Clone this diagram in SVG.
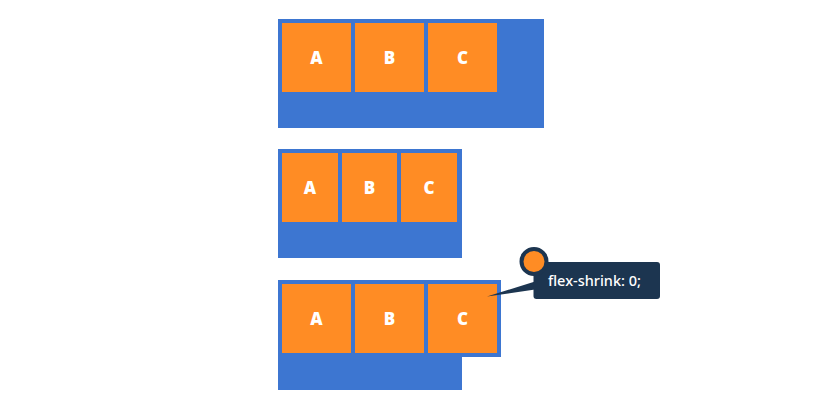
<svg xmlns="http://www.w3.org/2000/svg" width="826" height="403" viewBox="0 0 826 403">
<style>
.cont{fill:#3D76D1}
.item{fill:#FF8C24}
.lbl{font-family:"Open Sans","Noto Sans",sans-serif;font-weight:800;font-size:17px;fill:#fff;text-anchor:middle}
.tip{font-family:"Noto Sans","Open Sans",sans-serif;font-size:14.5px;font-weight:500;fill:#fff}
</style>
<rect width="826" height="403" fill="#fff"/>
<g id="panel1">
<rect class="cont" x="278" y="19" width="266" height="109"/>
<g id="p1-a"><rect class="item" x="282" y="23" width="69" height="69"/><text class="lbl" x="316.5" y="63.5">A</text></g>
<g id="p1-b"><rect class="item" x="355" y="23" width="69" height="69"/><text class="lbl" x="389.5" y="63.5">B</text></g>
<g id="p1-c"><rect class="item" x="428" y="23" width="69" height="69"/><text class="lbl" x="462.5" y="63.5">C</text></g>
</g>
<g id="panel2">
<rect class="cont" x="278" y="149" width="184" height="109"/>
<g id="p2-a"><rect class="item" x="282" y="153" width="56" height="69"/><text class="lbl" x="310" y="193.5">A</text></g>
<g id="p2-b"><rect class="item" x="342" y="153" width="55" height="69"/><text class="lbl" x="369.5" y="193.5">B</text></g>
<g id="p2-c"><rect class="item" x="401" y="153" width="56" height="69"/><text class="lbl" x="429" y="193.5">C</text></g>
</g>
<g id="panel3">
<rect class="cont" x="278" y="280" width="184" height="110"/>
<rect class="cont" x="278" y="280" width="223" height="77"/>
<g id="p3-a"><rect class="item" x="282" y="284" width="69" height="69"/><text class="lbl" x="316.5" y="324.5">A</text></g>
<g id="p3-b"><rect class="item" x="355" y="284" width="69" height="69"/><text class="lbl" x="389.5" y="324.5">B</text></g>
<g id="p3-c"><rect class="item" x="428" y="284" width="69" height="69"/><text class="lbl" x="462.5" y="324.5">C</text></g>
</g>
<g id="connectors">
<polygon points="487,296.5 535,281.5 535,289.5" fill="#1C3550"/>
</g>
<g id="callout">
<rect x="533.5" y="262" width="126.5" height="37" rx="3" fill="#1C3550"/>
<circle cx="534" cy="261.5" r="12.5" fill="#FF8C24" stroke="#1C3550" stroke-width="4"/>
<text class="tip" x="548" y="285.5">flex-shrink: 0;</text>
</g>
</svg>
